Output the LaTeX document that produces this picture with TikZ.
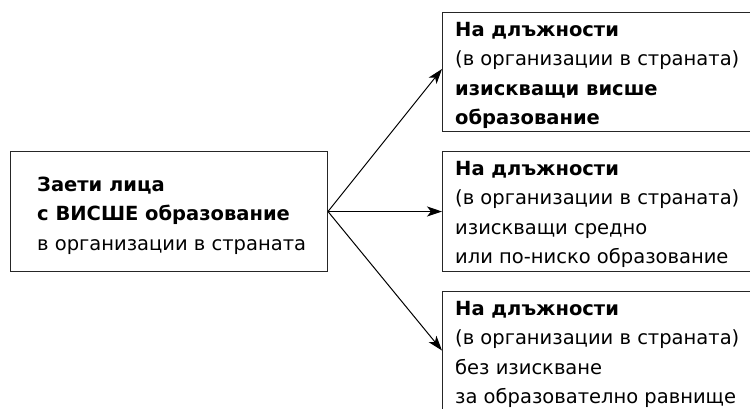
\documentclass[tikz,border=0pt]{standalone}
\usepackage{fontspec}
\setmainfont{DejaVu Sans}
\usetikzlibrary{arrows.meta}
\begin{document}
\begin{tikzpicture}[x=1pt,y=-1pt,
  box/.style={draw=black!85,line width=1pt,inner sep=0pt,anchor=north west},
  txt/.style={inner sep=0pt,anchor=north west,align=left,font=\fontsize{19.5}{29.3}\selectfont},
  arr/.style={line width=1pt,-{Stealth[length=15pt,width=10pt,inset=4pt]}}]
\clip (0,0) rectangle (750,408);
\node[box,minimum width=317pt,minimum height=120pt] (L) at (10,151) {};
\node[box,minimum width=330pt,minimum height=119pt] (B1) at (442,12) {};
\node[box,minimum width=330pt,minimum height=120pt] (B2) at (442,151) {};
\node[box,minimum width=330pt,minimum height=118pt] (B3) at (442,291) {};
\node[txt] (tL) at (37,177) {\textbf{Заети лица}\\\textbf{с ВИСШЕ образование}\\в организации в страната};
\node[txt] (t1) at (455,22) {\textbf{На длъжности}\\(в организации в страната)\\\textbf{изискващи висше}\\\textbf{образование}};
\node[txt] (t2) at (455,161) {\textbf{На длъжности}\\(в организации в страната)\\изискващи средно\\или по-ниско образование};
\node[txt] (t3) at (455,301) {\textbf{На длъжности}\\(в организации в страната)\\без изискване\\за образователно равнище};
\draw[arr] (L.east) -- ([yshift=3pt]B1.west);
\draw[arr] (L.east) -- (B2.west);
\draw[arr] (L.east) -- (B3.west);
\end{tikzpicture}
\end{document}
